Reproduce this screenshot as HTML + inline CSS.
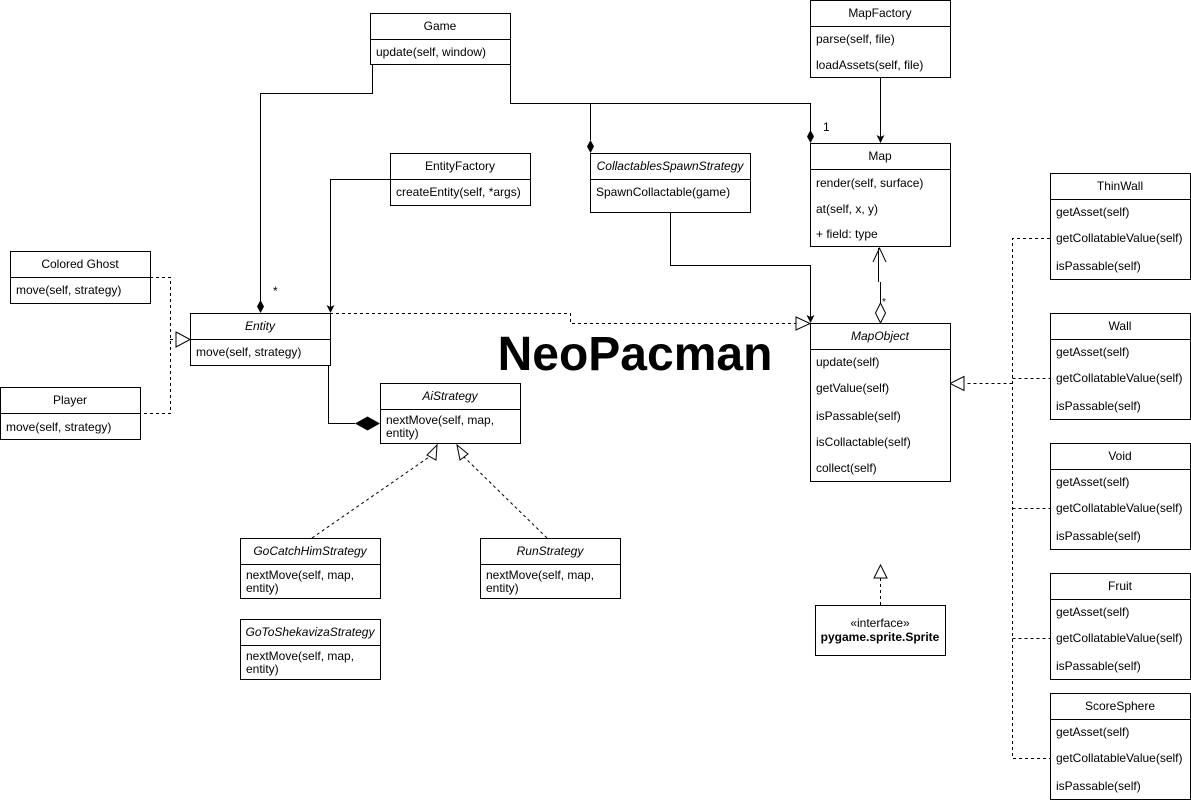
<!DOCTYPE html>
<html><head><meta charset="utf-8"><style>
html,body{margin:0;padding:0;background:#fff;}
svg{display:block;font-family:"Liberation Sans",Arial,sans-serif;font-size:12px;}
text{fill:#000;}
.b{fill:#fff;stroke:#000;stroke-width:1;}
.l{fill:none;stroke:#000;stroke-width:1;}
.d{fill:none;stroke:#000;stroke-width:1;stroke-dasharray:3,3;}
</style></head><body>
<svg width="1191" height="803" viewBox="0 0 1191 803">
<!-- connectors -->
<path class="l" d="M372.5 64V93.5H260.5V303"/>
<path d="M260.5 300l-3.5 6.5 3.5 6.5 3.5-6.5z"/>
<text x="273" y="295">*</text>
<path class="l" d="M510.5 64V103.5H810.5V133"/>
<path d="M810.5 130l-3.5 6.5 3.5 6.5 3.5-6.5z"/>
<text x="823" y="131">1</text>
<path class="l" d="M590.5 103.5V140"/>
<path d="M590.5 140l-3.5 6.5 3.5 6.5 3.5-6.5z"/>
<path class="l" d="M880.5 77V137"/>
<path d="M880.5 143l-4-8 4 2 4-2z"/>
<path class="l" d="M390 179.5H330.5V307"/>
<path d="M330.5 313l-4-8 4 2 4-2z"/>
<path class="d" d="M330 313.5H570.5V323.5H796"/>
<path class="b" d="M796 317l14 6.5-14 6.5z"/>
<path class="l" d="M670.5 212V265.5H810.5V317"/>
<path d="M810.5 323l-4-8 4 2 4-2z"/>
<path class="l" d="M878.5 248V282M880.5 282V303"/>
<path class="l" d="M873 262l6.5-14 6.5 14"/>
<path class="b" d="M880.5 303l-5 10 5 10 5-10z"/>
<text x="882" y="305" font-size="10">*</text>
<path class="d" d="M150 277.5H170.5V413.5H140"/>
<path class="d" d="M170 339.5H176"/>
<path class="b" d="M176 332l14 7.5-14 7.5z"/>
<path class="l" d="M328.5 365V423.5H355"/>
<path d="M355 423.5l12.5-7 12.5 7-12.5 7z"/>
<path class="d" d="M312 538L432 455"/>
<path class="b" d="M437 445l-1 15-9-5z"/>
<path class="d" d="M547 538L462 455"/>
<path class="b" d="M457 445l11 9-8 6z"/>
<path class="d" d="M880.5 578V605"/>
<path class="b" d="M880.5 565l6.5 13h-13z"/>
<path class="d" d="M1050 238.5H1012.5V758.5H1050M1012.5 378.5H1050M1012.5 508.5H1050M1012.5 638.5H1050M1012.5 383.5H964"/>
<path class="b" d="M964 376.5l-14 7 14 7z"/>

<!-- boxes -->
<g>
<rect class="b" x="370.5" y="13.5" width="140" height="51"/><path class="l" d="M370.5 39.5h140"/>
<text x="440" y="30" text-anchor="middle">Game</text><text x="376" y="56">update(self, window)</text>

<rect class="b" x="810.5" y="0.5" width="140" height="77"/><path class="l" d="M810.5 26.5h140"/>
<text x="880" y="17" text-anchor="middle">MapFactory</text><text x="816" y="43">parse(self, file)</text><text x="816" y="69">loadAssets(self, file)</text>

<rect class="b" x="810.5" y="143.5" width="140" height="103"/><path class="l" d="M810.5 169.5h140"/>
<text x="880" y="160" text-anchor="middle">Map</text><text x="816" y="187">render(self, surface)</text><text x="816" y="213">at(self, x, y)</text><text x="816" y="238">+ field: type</text>

<rect class="b" x="390.5" y="153.5" width="140" height="52"/><path class="l" d="M390.5 179.5h140"/>
<text x="460" y="170" text-anchor="middle">EntityFactory</text><text x="396" y="196">createEntity(self, *args)</text>

<rect class="b" x="590.5" y="153.5" width="160" height="59"/><path class="l" d="M590.5 179.5h160"/>
<text x="670" y="170" text-anchor="middle" font-style="italic">CollactablesSpawnStrategy</text><text x="596" y="196">SpawnCollactable(game)</text>

<rect class="b" x="10.5" y="251.5" width="140" height="52"/><path class="l" d="M10.5 277.5h140"/>
<text x="80" y="268" text-anchor="middle">Colored Ghost</text><text x="16" y="294">move(self, strategy)</text>

<rect class="b" x="190.5" y="313.5" width="140" height="52"/><path class="l" d="M190.5 339.5h140"/>
<text x="260" y="330" text-anchor="middle" font-style="italic">Entity</text><text x="196" y="356">move(self, strategy)</text>

<rect class="b" x="0.5" y="387.5" width="140" height="52"/><path class="l" d="M0.5 413.5h140"/>
<text x="70" y="404" text-anchor="middle">Player</text><text x="6" y="431">move(self, strategy)</text>

<rect class="b" x="380.5" y="383.5" width="140" height="60"/><path class="l" d="M380.5 409.5h140"/>
<text x="450" y="400" text-anchor="middle" font-style="italic">AiStrategy</text><text x="386" y="424">nextMove(self, map,</text><text x="386" y="437">entity)</text>

<rect class="b" x="240.5" y="538.5" width="140" height="60"/><path class="l" d="M240.5 564.5h140"/>
<text x="310" y="555" text-anchor="middle" font-style="italic">GoCatchHimStrategy</text><text x="246" y="579">nextMove(self, map,</text><text x="246" y="592">entity)</text>

<rect class="b" x="480.5" y="538.5" width="140" height="60"/><path class="l" d="M480.5 564.5h140"/>
<text x="550" y="555" text-anchor="middle" font-style="italic">RunStrategy</text><text x="486" y="579">nextMove(self, map,</text><text x="486" y="592">entity)</text>

<rect class="b" x="240.5" y="619.5" width="140" height="60"/><path class="l" d="M240.5 645.5h140"/>
<text x="310" y="636" text-anchor="middle" font-style="italic">GoToShekavizaStrategy</text><text x="246" y="660">nextMove(self, map,</text><text x="246" y="673">entity)</text>

<rect class="b" x="810.5" y="323.5" width="140" height="158"/><path class="l" d="M810.5 349.5h140"/>
<text x="880" y="340" text-anchor="middle" font-style="italic">MapObject</text>
<text x="816" y="366">update(self)</text><text x="816" y="392">getValue(self)</text><text x="816" y="420">isPassable(self)</text><text x="816" y="446">isCollactable(self)</text><text x="816" y="472">collect(self)</text>

<rect class="b" x="815.5" y="605.5" width="130" height="50"/>
<text x="880" y="627" text-anchor="middle">«interface»</text><text x="880" y="641" text-anchor="middle" font-weight="bold">pygame.sprite.Sprite</text>

<g id="tw">
<rect class="b" x="1050.5" y="173.5" width="140" height="106"/><path class="l" d="M1050.5 199.5h140"/>
<text x="1120" y="190" text-anchor="middle">ThinWall</text><text x="1056" y="216">getAsset(self)</text><text x="1056" y="242">getCollatableValue(self)</text><text x="1056" y="270">isPassable(self)</text>
</g>
<rect class="b" x="1050.5" y="313.5" width="140" height="106"/><path class="l" d="M1050.5 339.5h140"/>
<text x="1120" y="330" text-anchor="middle">Wall</text><text x="1056" y="356">getAsset(self)</text><text x="1056" y="382">getCollatableValue(self)</text><text x="1056" y="410">isPassable(self)</text>
<rect class="b" x="1050.5" y="443.5" width="140" height="106"/><path class="l" d="M1050.5 469.5h140"/>
<text x="1120" y="460" text-anchor="middle">Void</text><text x="1056" y="486">getAsset(self)</text><text x="1056" y="512">getCollatableValue(self)</text><text x="1056" y="540">isPassable(self)</text>
<rect class="b" x="1050.5" y="573.5" width="140" height="106"/><path class="l" d="M1050.5 599.5h140"/>
<text x="1120" y="590" text-anchor="middle">Fruit</text><text x="1056" y="616">getAsset(self)</text><text x="1056" y="642">getCollatableValue(self)</text><text x="1056" y="670">isPassable(self)</text>
<rect class="b" x="1050.5" y="693.5" width="140" height="106"/><path class="l" d="M1050.5 719.5h140"/>
<text x="1120" y="710" text-anchor="middle">ScoreSphere</text><text x="1056" y="736">getAsset(self)</text><text x="1056" y="762">getCollatableValue(self)</text><text x="1056" y="790">isPassable(self)</text>
</g>

<text x="635" y="370" text-anchor="middle" font-size="48" font-weight="bold">NeoPacman</text>
</svg>
</body></html>
